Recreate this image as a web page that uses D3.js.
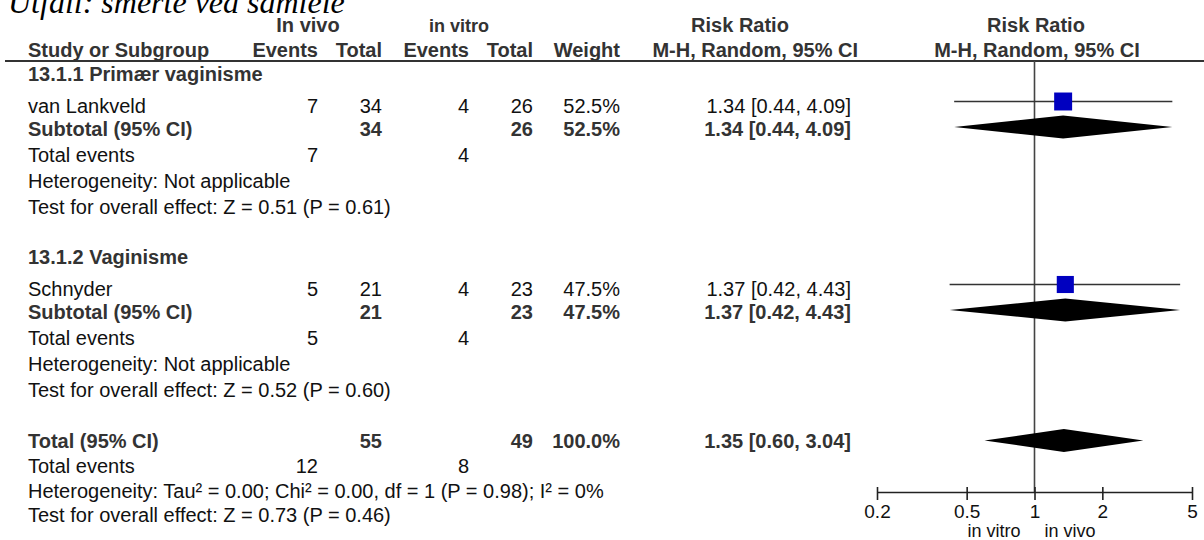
<!DOCTYPE html>
<html>
<head>
<meta charset="utf-8">
<script src="https://cdn.jsdelivr.net/npm/d3@7"></script>
<style>
  html, body { margin: 0; padding: 0; background: #fff; }
  svg { display: block; }
  .b { font-family: "Liberation Sans", Arial, sans-serif; font-weight: bold; fill: #333; font-size: 20px; }
  .r { font-family: "Liberation Sans", Arial, sans-serif; fill: #111; font-size: 20px; }
</style>
</head>
<body>
<svg id="chart" width="1204" height="540"></svg>
<script>
// Forest plot: in vivo vs in vitro exposure, risk ratio (M-H, random effects)
const titleText = "Utfall: smerte ved samleie";
const groupNames = ["13.1.1 Primær vaginisme", "13.1.2 Vaginisme"];
const studyNames = ["van Lankveld", "Schnyder"];
const vivoEvents = [7, 5];
const vivoTotal = [34, 21];
const vitroEvents = [4, 4];
const vitroTotal = [26, 23];
const weights = [52.5, 47.5];
const rr = [1.34, 1.37];
const rrLow = [0.44, 0.42];
const rrHigh = [4.09, 4.43];
const subRR = [1.34, 1.37];
const subLow = [0.44, 0.42];
const subHigh = [4.09, 4.43];
const groupHet = ["Heterogeneity: Not applicable", "Heterogeneity: Not applicable"];
const groupEffect = ["Test for overall effect: Z = 0.51 (P = 0.61)", "Test for overall effect: Z = 0.52 (P = 0.60)"];
const overallTotals = [55, 49];
const overallEvents = [12, 8];
const overallWeight = 100.0;
const overallRR = [1.35, 0.60, 3.04];
const overallHet = "Heterogeneity: Tau² = 0.00; Chi² = 0.00, df = 1 (P = 0.98); I² = 0%";
const overallEffect = "Test for overall effect: Z = 0.73 (P = 0.46)";
const axisTicks = [0.2, 0.5, 1, 2, 5];
const favourLeft = "in vitro";
const favourRight = "in vivo";

const svg = d3.select("#chart");
const x = d3.scaleLog().domain([0.2, 5]).range([877, 1192]);
const f2 = d3.format(".2f");
const ciText = (m, l, h) => `${f2(m)} [${f2(l)}, ${f2(h)}]`;
const wText = w => d3.format(".1f")(w) + "%";

// column anchors (right edges of numeric columns)
const col = { study: 28, vivoE: 318, vivoT: 382, vitroE: 469, vitroT: 533, weight: 620, ci: 851 };

function txt(cls, xPos, y, s, anchor) {
  svg.append("text").attr("class", cls).attr("x", xPos).attr("y", y)
    .attr("text-anchor", anchor || "start").text(s);
}

// title (partly clipped at the top edge)
svg.append("text").attr("x", 8).attr("y", 13)
  .style("font-family", "'Liberation Serif', 'Times New Roman', serif")
  .style("font-style", "italic").style("font-size", "32px").style("fill", "#000")
  .text(titleText);

// header
txt("b", 308, 32, "In vivo", "middle");
txt("b", 459, 32, "in vitro", "middle");
txt("b", 740, 32, "Risk Ratio", "middle");
txt("b", 1036, 32, "Risk Ratio", "middle");
txt("b", col.study, 57, "Study or Subgroup");
txt("b", col.vivoE, 57, "Events", "end");
txt("b", col.vivoT, 57, "Total", "end");
txt("b", col.vitroE, 57, "Events", "end");
txt("b", col.vitroT, 57, "Total", "end");
txt("b", col.weight, 57, "Weight", "end");
txt("b", 858, 57, "M-H, Random, 95% CI", "end");
txt("b", 1037, 57, "M-H, Random, 95% CI", "middle");
svg.append("line").attr("x1", 5).attr("x2", 1204).attr("y1", 61).attr("y2", 61)
  .attr("stroke", "#333").attr("stroke-width", 2);

const axisY = 492;
// line of no effect
svg.append("line").attr("x1", x(1)).attr("x2", x(1)).attr("y1", 61).attr("y2", axisY)
  .attr("stroke", "#444").attr("stroke-width", 1.6);

const groupStep = 183;
const diamondHalf = 11.5;
function diamond(y, m, l, h) {
  svg.append("path")
    .attr("d", `M${x(l)},${y} L${x(m)},${y - diamondHalf} L${x(h)},${y} L${x(m)},${y + diamondHalf} Z`)
    .attr("fill", "#000");
}

groupNames.forEach((g, i) => {
  const o = i * groupStep;
  txt("b", col.study, 81 + o, g);
  // study row
  const ys = 113 + o;
  txt("r", col.study, ys, studyNames[i]);
  txt("r", col.vivoE, ys, vivoEvents[i], "end");
  txt("r", col.vivoT, ys, vivoTotal[i], "end");
  txt("r", col.vitroE, ys, vitroEvents[i], "end");
  txt("r", col.vitroT, ys, vitroTotal[i], "end");
  txt("r", col.weight, ys, wText(weights[i]), "end");
  txt("r", col.ci, ys, ciText(rr[i], rrLow[i], rrHigh[i]), "end");
  const my = 101.5 + o;
  svg.append("line").attr("x1", x(rrLow[i])).attr("x2", x(rrHigh[i]))
    .attr("y1", my).attr("y2", my).attr("stroke", "#333").attr("stroke-width", 1.6);
  const side = 2.48 * Math.sqrt(weights[i]);
  svg.append("rect").attr("x", x(rr[i]) - side / 2).attr("y", my - side / 2)
    .attr("width", side).attr("height", side).attr("fill", "#0000c0");
  // subtotal
  const yt = 136 + o;
  txt("b", col.study, yt, "Subtotal (95% CI)");
  txt("b", col.vivoT, yt, vivoTotal[i], "end");
  txt("b", col.vitroT, yt, vitroTotal[i], "end");
  txt("b", col.weight, yt, wText(weights[i]), "end");
  txt("b", col.ci, yt, ciText(subRR[i], subLow[i], subHigh[i]), "end");
  diamond(127 + o, subRR[i], subLow[i], subHigh[i]);
  txt("r", col.study, 162 + o, "Total events");
  txt("r", col.vivoE, 162 + o, vivoEvents[i], "end");
  txt("r", col.vitroE, 162 + o, vitroEvents[i], "end");
  txt("r", col.study, 188 + o, groupHet[i]);
  txt("r", col.study, 214 + o, groupEffect[i]);
});

// overall
txt("b", col.study, 448, "Total (95% CI)");
txt("b", col.vivoT, 448, overallTotals[0], "end");
txt("b", col.vitroT, 448, overallTotals[1], "end");
txt("b", col.weight, 448, wText(overallWeight), "end");
txt("b", col.ci, 448, ciText(...overallRR), "end");
diamond(440.5, overallRR[0], overallRR[1], overallRR[2]);
txt("r", col.study, 473, "Total events");
txt("r", col.vivoE, 473, overallEvents[0], "end");
txt("r", col.vitroE, 473, overallEvents[1], "end");
txt("r", col.study, 498, overallHet);
txt("r", col.study, 522, overallEffect);

// axis
const axis = d3.axisBottom(x).tickValues(axisTicks).tickFormat(d => String(d))
  .tickSizeInner(8).tickSizeOuter(0);
const ag = svg.append("g").attr("transform", `translate(0,${axisY})`).call(axis);
ag.select(".domain").attr("stroke", "#222").attr("stroke-width", 1.6);
ag.selectAll(".tick line").attr("y1", -5).attr("stroke", "#222").attr("stroke-width", 1.6);
ag.selectAll(".tick text").attr("y", 26).attr("dy", 0)
  .style("font-family", "'Liberation Sans', Arial, sans-serif").style("font-size", "19px").attr("fill", "#111");
txt("r", x(1) - 14, 537, favourLeft, "end");
txt("r", x(1) + 10, 537, favourRight, "start");
svg.selectAll("text").filter(function () { return this.textContent === favourLeft || this.textContent === favourRight; })
  .style("font-size", "18px");
</script>
</body>
</html>
